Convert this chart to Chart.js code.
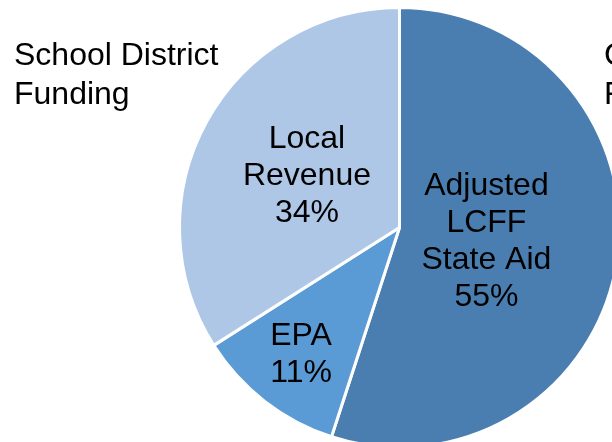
<!DOCTYPE html>
<html>
<head>
<meta charset="utf-8">
<script src="https://cdn.jsdelivr.net/npm/chart.js@4/dist/chart.umd.min.js"></script>
<style>
    html, body { margin: 0; padding: 0; background: #fff; overflow: hidden; width: 612px; height: 442px; }
    #wrap { position: absolute; left: 0; top: 0; width: 640px; height: 470px; }
</style>
</head>
<body>
<div id="wrap"><canvas id="fundingChart"></canvas></div>
<script>
// slice names (one array entry per text line) and shares
const categories = [['Adjusted', 'LCFF', 'State Aid'], ['EPA'], ['Local', 'Revenue']];
const shares = [55, 11, 34];
const sliceColors = ['#4A7EB0', '#5B9BD5', '#AEC7E6'];
const titleLines = ['School District', 'Funding'];
const rightTitleLines = ['Charter School', 'Funding'];

// how far out from the centre each label sits (fraction of radius)
const labelRadius = [0.40, 0.73, 0.48];

const FONT = '32px "Liberation Sans", Arial, sans-serif';

const sliceLabels = {
    id: 'sliceLabels',
    afterDatasetsDraw(chart) {
        const ctx = chart.ctx;
        const arcs = chart.getDatasetMeta(0).data;
        ctx.save();
        ctx.font = FONT;
        ctx.fillStyle = '#000';
        ctx.textAlign = 'center';
        ctx.textBaseline = 'middle';
        const lineH = 37;
        arcs.forEach((arc, i) => {
            const mid = (arc.startAngle + arc.endAngle) / 2;
            const r = arc.outerRadius * labelRadius[i];
            const cx = arc.x + Math.cos(mid) * r;
            const cy = arc.y + Math.sin(mid) * r;
            const lines = categories[i].concat([shares[i] + '%']);
            const top = cy - (lines.length - 1) * lineH / 2;
            lines.forEach((t, j) => ctx.fillText(t, cx, top + j * lineH));
        });

        // side titles
        ctx.textAlign = 'left';
        ctx.textBaseline = 'alphabetic';
        titleLines.forEach((t, j) => ctx.fillText(t, 14, 65 + j * 39));
        rightTitleLines.forEach((t, j) => ctx.fillText(t, 604, 65 + j * 39));
        ctx.restore();
    }
};

new Chart(document.getElementById('fundingChart').getContext('2d'), {
    type: 'pie',
    data: {
        labels: categories.map(c => c.join(' ')),
        datasets: [{
            data: shares,
            backgroundColor: sliceColors,
            borderColor: '#ffffff',
            borderWidth: 3
        }]
    },
    options: {
        responsive: true,
        maintainAspectRatio: false,
        animation: false,
        layout: {
            padding: { left: 178, top: 6, right: 19, bottom: 21 }
        },
        plugins: {
            legend: { display: false },
            tooltip: { enabled: false }
        }
    },
    plugins: [sliceLabels]
});
</script>
</body>
</html>
